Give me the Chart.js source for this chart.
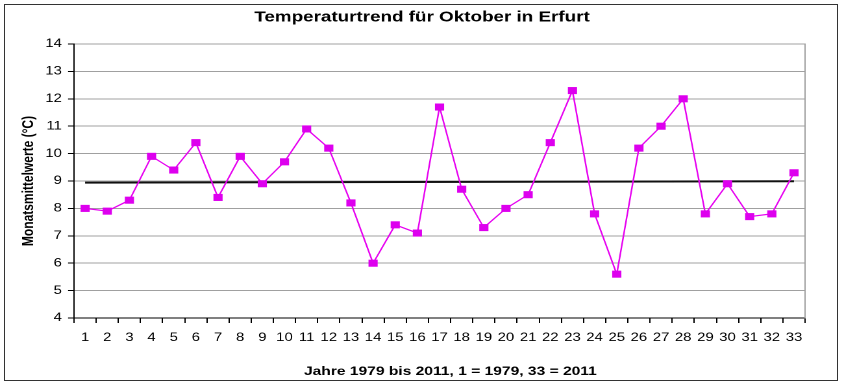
<!DOCTYPE html>
<html>
<head>
<meta charset="utf-8">
<script src="https://cdn.jsdelivr.net/npm/chart.js@4.4.1/dist/chart.umd.min.js"></script>
<style>
  html, body { margin: 0; padding: 0; background: #fff; overflow: hidden; }
  #stage { position: absolute; left: 0; top: 0; width: 650px; height: 386px; transform: scaleX(1.29846); transform-origin: 0 0; }
  #frame { position: absolute; left: 4px; top: 4px; width: 832px; height: 375px; border: 1.5px solid #333; pointer-events: none; }
</style>
</head>
<body>
<div id="stage"><canvas id="c"></canvas></div>
<div id="frame"></div>
<script>
// ---- data ----
const yearIndex = ['1','2','3','4','5','6','7','8','9','10','11','12','13','14','15','16','17','18','19','20','21','22','23','24','25','26','27','28','29','30','31','32','33'];
const octoberMeans = [8.0, 7.9, 8.3, 9.9, 9.4, 10.4, 8.4, 9.9, 8.9, 9.7, 10.9, 10.2, 8.2, 6.0, 7.4, 7.1, 11.7, 8.7, 7.3, 8.0, 8.5, 10.4, 12.3, 7.8, 5.6, 10.2, 11.0, 12.0, 7.8, 8.9, 7.7, 7.8, 9.3];
const trendStart = 8.94;
const trendEnd = 8.99;
const yTicks = [4, 5, 6, 7, 8, 9, 10, 11, 12, 13, 14];
const chartTitle = 'Temperaturtrend für Oktober in Erfurt';
const yTitle = 'Monatsmittelwerte (°C)';
const xTitle = 'Jahre 1979 bis 2011, 1 = 1979, 33 = 2011';

const trendLine = yearIndex.map((_, i) => i === 0 ? trendStart : (i === yearIndex.length - 1 ? trendEnd : null));
const FONT = "'Liberation Sans', Arial, sans-serif";

new Chart(document.getElementById('c'), {
  type: 'line',
  data: {
    labels: yearIndex,
    datasets: [
      {
        label: 'Monatsmittel',
        data: octoberMeans,
        borderColor: '#e600f0',
        borderWidth: 1.2,
        pointStyle: 'rect',
        pointRadius: 5,
        pointBackgroundColor: '#dd00ee',
        pointBorderColor: '#dd00ee',
        pointBorderWidth: 0,
        tension: 0,
        yAxisID: 'y'
      },
      {
        label: 'Trend',
        data: trendLine,
        spanGaps: true,
        borderColor: '#111',
        borderWidth: 2,
        pointRadius: 0,
        tension: 0,
        yAxisID: 'y'
      }
    ]
  },
  options: {
    responsive: true,
    maintainAspectRatio: false,
    devicePixelRatio: 2,
    animation: false,
    layout: { padding: { left: 4, right: 4, top: 4, bottom: 4 } },
    plugins: {
      legend: { display: false },
      tooltip: { enabled: false },
      title: {
        display: true,
        text: chartTitle,
        color: '#000',
        font: { family: FONT, size: 14.5, weight: 'bold' },
        padding: { top: 4.8, bottom: 17.8 }
      }
    },
    scales: {
      x: {
        type: 'category',
        offset: true,
        grid: { display: true, offset: true, drawOnChartArea: false, drawTicks: true, tickLength: 5, color: '#000', tickColor: '#000' },
        border: { display: true, color: '#000', width: 1 },
        ticks: { autoSkip: false, maxRotation: 0, minRotation: 0, color: '#000', padding: 8, font: { family: FONT, size: 11.5 } },
        title: { display: true, text: '     ' + xTitle, color: '#000', font: { family: FONT, size: 12, weight: 'bold' }, padding: { top: 0, bottom: 3.3 } },
        afterFit: (s) => { s.height = 64; }
      },
      y: {
        position: 'left',
        min: 4,
        max: 14,
        afterBuildTicks: (s) => { s.ticks = yTicks.map(v => ({ value: v })); },
        grid: { color: '#a0a0a0', lineWidth: 1, tickColor: '#000', tickLength: 4.6, drawTicks: true },
        border: { display: true, color: '#000', width: 1 },
        ticks: { color: '#000', padding: 4.7, font: { family: FONT, size: 11.5 } },
        title: { display: true, text: yTitle, color: '#000', font: { family: FONT, size: 12, weight: 'bold' }, padding: { top: 11, bottom: 0 } },
        afterFit: (s) => { s.width = 53; }
      },
      yRight: {
        position: 'right',
        min: 4,
        max: 14,
        grid: { drawOnChartArea: false, drawTicks: false },
        border: { display: true, color: '#a0a0a0', width: 1 },
        ticks: { display: false },
        afterFit: (s) => { s.width = 26; }
      }
    }
  }
});
</script>
</body>
</html>
